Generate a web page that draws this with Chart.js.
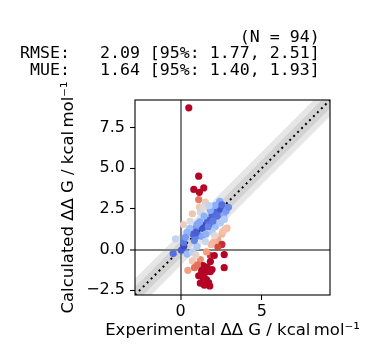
<!DOCTYPE html>
<html>
<head>
<meta charset="utf-8">
<script src="https://cdn.jsdelivr.net/npm/chart.js@4/dist/chart.umd.min.js"></script>
<style>
html,body{margin:0;padding:0;background:#fff;}
#wrap{width:372px;height:358px;position:relative;}
</style>
</head>
<body>
<div id="wrap"><canvas id="c" width="372" height="358"></canvas></div>
<script>
// ---- data ----
const expX = [0.51,1.12,0.82,1.43,1.16,1.12,1.16,1.53,0.73,0.18,
  0.59,-0.31,-0.45,0.05,0.20,0.41,0.73,0.45,0.86,1.22,
  1.84,2.08,2.69,2.69,1.84,1.39,1.63,1.94,1.53,1.26,
  1.39,1.84,1.22,1.47,1.80,1.73,1.12,2.29,2.04,2.55,
  1.88,2.55,2.86,2.75,1.35,1.53,1.67,1.94,2.14,2.35,
  2.45,2.41,2.14,1.84,1.22,1.39,1.18,0.92,0.57,0.78,
  1.12,1.33,1.53,2.14,2.45,2.65,2.61,1.94,0.73,1.02,
  0.20,1.02,1.75,2.25,1.70,0.95,2.55,1.05,0.95,1.60,
  2.30,2.00,1.45,2.80,0.40,1.60,1.30,2.10,0.85,1.75,
  2.95,0.30,1.55,2.70];
const calcY = [8.72,4.51,3.70,3.79,3.52,3.07,2.61,2.92,2.20,1.54,
  1.75,0.66,-0.25,-0.05,0.20,-0.28,-0.70,-1.28,-1.12,-0.62,
  -0.37,-0.37,-0.31,-1.12,-0.74,-0.99,-1.09,-1.23,-1.42,-1.58,
  -1.72,-1.36,-2.07,-2.20,-2.24,-2.03,-1.62,0.62,0.45,0.31,
  0.31,0.96,1.31,1.25,1.30,1.52,1.79,2.09,2.30,2.19,
  2.51,2.96,2.72,2.41,2.30,2.61,1.70,1.30,1.30,0.93,
  0.86,0.80,0.49,1.42,1.63,2.09,1.11,1.11,-0.16,0.19,
  0.44,1.55,1.55,2.05,1.40,1.05,2.75,-0.95,-0.35,-0.15,
  0.15,1.75,2.05,2.35,1.05,-1.85,-1.30,0.85,0.55,2.70,
  2.60,0.75,0.95,1.85];
const axisLimits = [-2.8, 9.2];
const xTickValues = [0, 5];
const yTickValues = [-2.5, 0, 2.5, 5, 7.5];
const bandWidths = [1.0, 0.5];
const titleLines = [
  "                      (N = 94)",
  "RMSE:   2.09 [95%: 1.77, 2.51]",
  " MUE:   1.64 [95%: 1.40, 1.93]"
];
const xLabel = "Experimental \u0394\u0394 G / kcal\u2009mol\u207B\u00B9";
const yLabel = "Calculated \u0394\u0394 G / kcal\u2009mol\u207B\u00B9";

// ---- colour map (coolwarm) ----
const cwStops = [[59,76,192],[98,130,234],[141,176,254],[184,208,249],[221,221,221],[244,196,173],[244,154,123],[222,97,77],[180,4,38]];
function coolwarm(t){
  t = Math.max(0, Math.min(1, t));
  const p = t*(cwStops.length-1); const i = Math.min(Math.floor(p), cwStops.length-2); const f = p-i;
  const a = cwStops[i], b = cwStops[i+1];
  return 'rgb(' + a.map((v,k)=>Math.round(v+(b[k]-v)*f)).join(',') + ')';
}
const points = expX.map((x,i)=>({x:x, y:calcY[i]}));
const pointColors = expX.map((x,i)=>coolwarm(Math.abs(calcY[i]-x)/2.372));

const line = (off)=>axisLimits.map(v=>({x:v, y:v+off}));
const bandFill = 'rgba(128,128,128,0.2)';

const FONT = "'DejaVu Sans', sans-serif";

const framePlugin = {
  id:'frame',
  afterDatasetsDraw(chart){
    const {ctx, chartArea:a} = chart;
    ctx.save();
    ctx.strokeStyle = '#000'; ctx.lineWidth = 1.1;
    ctx.strokeRect(a.left, a.top, a.right-a.left, a.bottom-a.top);
    ctx.restore();
  },
  afterDraw(chart){
    const ctx = chart.ctx, a = chart.chartArea;
    ctx.save();
    ctx.fillStyle = '#000';
    ctx.font = "16.6px 'DejaVu Sans Mono', monospace";
    ctx.textBaseline = 'alphabetic';
    ctx.textAlign = 'left';
    const base = [41.6, 58.3, 75.0];
    titleLines.forEach((t,i)=>ctx.fillText(t, 20, base[i]));
    ctx.font = "16.5px " + FONT;
    ctx.textAlign = 'center';
    ctx.fillText(xLabel, (a.left+a.right)/2, 335);
    ctx.restore();
  }
};

new Chart(document.getElementById('c'), {
  type:'scatter',
  data:{
    datasets:[
      {type:'scatter', data:points, pointRadius:3.6, pointHoverRadius:3.6, pointBackgroundColor:pointColors, pointBorderWidth:0, order:0},
      {type:'line', data:line(0), borderColor:'#000', borderWidth:2, borderDash:[2,3.6], pointRadius:0, fill:false, order:1},
      {type:'line', data:line(bandWidths[0]), borderWidth:0, pointRadius:0, backgroundColor:bandFill, fill:'+1', order:4},
      {type:'line', data:line(-bandWidths[0]), borderWidth:0, pointRadius:0, fill:false, order:5},
      {type:'line', data:line(bandWidths[1]), borderWidth:0, pointRadius:0, backgroundColor:bandFill, fill:'+1', order:2},
      {type:'line', data:line(-bandWidths[1]), borderWidth:0, pointRadius:0, fill:false, order:3}
    ]
  },
  options:{
    responsive:false,
    animation:false,
    events:[],
    layout:{padding:{top:100, right:42, left:0, bottom:0}},
    plugins:{legend:{display:false}, tooltip:{enabled:false}, title:{display:false}},
    scales:{
      x:{
        type:'linear', min:axisLimits[0], max:axisLimits[1],
        afterFit(s){ s.height = 63; },
        afterBuildTicks(s){ s.ticks = xTickValues.map(v=>({value:v})); },
        border:{display:false},
        grid:{
          color:c=>(c.tick && c.tick.value===0)?'rgb(128,128,128)':'rgba(0,0,0,0)',
          lineWidth:c=>(c.tick && c.tick.value===0)?2:1,
          tickColor:'#000', tickWidth:1.1, tickLength:5, drawOnChartArea:true
        },
        ticks:{color:'#000', font:{family:FONT, size:16}, padding:2, maxRotation:0,
          callback:v=>String(v).replace('-', '\u2212')},
        title:{display:false}
      },
      y:{
        type:'linear', min:axisLimits[0], max:axisLimits[1],
        afterFit(s){ s.width = 135; },
        afterBuildTicks(s){ s.ticks = yTickValues.map(v=>({value:v})); },
        border:{display:false},
        grid:{
          color:c=>(c.tick && c.tick.value===0)?'rgb(128,128,128)':'rgba(0,0,0,0)',
          lineWidth:c=>(c.tick && c.tick.value===0)?2:1,
          tickColor:'#000', tickWidth:1.1, tickLength:5, drawOnChartArea:true
        },
        ticks:{color:'#000', font:{family:FONT, size:16}, padding:5,
          callback:v=>v.toFixed(1).replace('-', '\u2212')},
        title:{display:true, text:yLabel, color:'#000', font:{family:FONT, size:16.5}, padding:{top:59,bottom:0}}
      }
    }
  },
  plugins:[framePlugin]
});
</script>
</body>
</html>
